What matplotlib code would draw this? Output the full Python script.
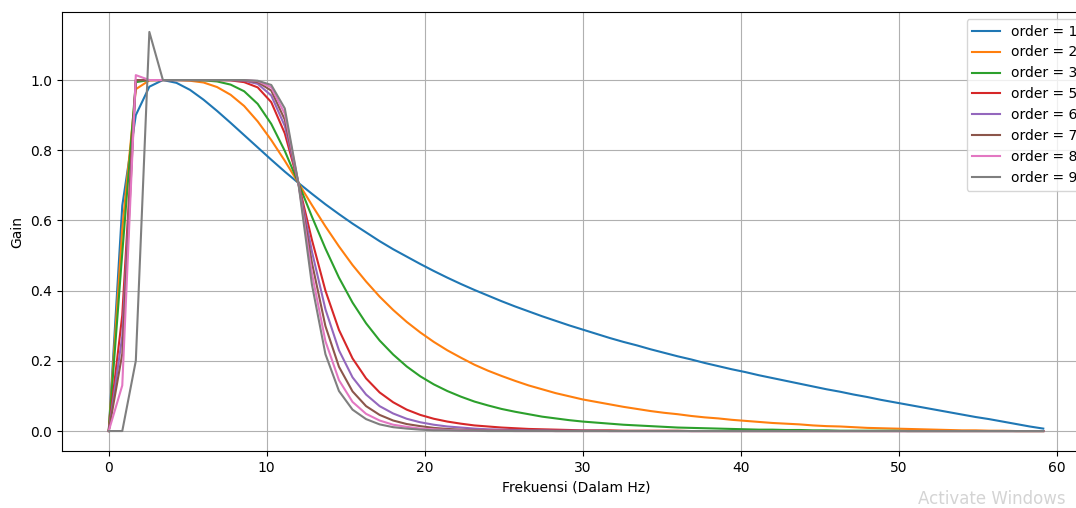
import matplotlib
matplotlib.use("Agg")
import matplotlib.pyplot as plt

# frekuensi sampel respons (Hz)
freq = [0.0, 0.857, 1.714, 2.571, 3.429, 4.286, 5.143, 6.0, 6.857, 7.714,
        8.571, 9.429, 10.286, 11.143, 12.0, 12.857, 13.714, 14.571, 15.429, 16.286,
        17.143, 18.0, 18.857, 19.714, 20.571, 21.429, 22.286, 23.143, 24.0, 24.857,
        25.714, 26.571, 27.429, 28.286, 29.143, 30.0, 30.857, 31.714, 32.571, 33.429,
        34.286, 35.143, 36.0, 36.857, 37.714, 38.571, 39.429, 40.286, 41.143, 42.0,
        42.857, 43.714, 44.571, 45.429, 46.286, 47.143, 48.0, 48.857, 49.714, 50.571,
        51.429, 52.286, 53.143, 54.0, 54.857, 55.714, 56.571, 57.429, 58.286, 59.143]

orders = [1, 2, 3, 5, 6, 7, 8, 9]

gain_1 = [0.0, 0.642, 0.900, 0.981, 1.000, 0.992, 0.972, 0.944, 0.912, 0.878,
          0.843, 0.808, 0.773, 0.739, 0.707, 0.676, 0.646, 0.618, 0.591, 0.566,
          0.541, 0.518, 0.497, 0.476, 0.456, 0.437, 0.419, 0.402, 0.386, 0.370,
          0.355, 0.341, 0.327, 0.314, 0.301, 0.289, 0.277, 0.265, 0.254, 0.244,
          0.233, 0.223, 0.213, 0.204, 0.194, 0.185, 0.176, 0.168, 0.159, 0.151,
          0.143, 0.135, 0.127, 0.119, 0.112, 0.104, 0.097, 0.089, 0.082, 0.075,
          0.068, 0.061, 0.054, 0.047, 0.040, 0.034, 0.027, 0.020, 0.013, 0.007]

gain_2 = [0.0, 0.575, 0.974, 0.999, 1.0, 1.0, 0.998, 0.993, 0.980, 0.958,
          0.926, 0.882, 0.829, 0.770, 0.707, 0.644, 0.583, 0.526, 0.473, 0.426,
          0.383, 0.345, 0.311, 0.281, 0.254, 0.230, 0.209, 0.189, 0.172, 0.157,
          0.143, 0.130, 0.119, 0.108, 0.099, 0.090, 0.083, 0.076, 0.069, 0.063,
          0.057, 0.052, 0.048, 0.043, 0.039, 0.036, 0.032, 0.029, 0.026, 0.023,
          0.021, 0.019, 0.016, 0.014, 0.013, 0.011, 0.009, 0.008, 0.007, 0.006,
          0.005, 0.004, 0.003, 0.002, 0.002, 0.001, 0.001, 0.0, 0.0, 0.0]

gain_3 = [0.0, 0.507, 0.994, 1.0, 1.0, 1.0, 1.0, 0.999, 0.996, 0.987,
          0.968, 0.932, 0.875, 0.798, 0.707, 0.611, 0.520, 0.437, 0.366, 0.307,
          0.258, 0.218, 0.184, 0.156, 0.133, 0.114, 0.098, 0.084, 0.073, 0.063,
          0.055, 0.048, 0.041, 0.036, 0.031, 0.027, 0.024, 0.021, 0.018, 0.016,
          0.014, 0.012, 0.010, 0.009, 0.008, 0.007, 0.006, 0.005, 0.004, 0.004,
          0.003, 0.003, 0.002, 0.002, 0.001, 0.001, 0.001, 0.001, 0.001, 0.0,
          0.0, 0.0, 0.0, 0.0, 0.0, 0.0, 0.0, 0.0, 0.0, 0.0]

gain_5 = [0.0, 0.33, 1.0, 1.0, 1.0, 1.0, 1.0, 1.0, 1.0, 0.999,
          0.994, 0.979, 0.937, 0.848, 0.707, 0.545, 0.400, 0.288, 0.207, 0.150,
          0.110, 0.082, 0.061, 0.046, 0.035, 0.027, 0.021, 0.016, 0.013, 0.010,
          0.008, 0.006, 0.005, 0.004, 0.003, 0.002, 0.002, 0.002, 0.001, 0.001,
          0.001, 0.001, 0.001, 0.0, 0.0, 0.0, 0.0, 0.0, 0.0, 0.0,
          0.0, 0.0, 0.0, 0.0, 0.0, 0.0, 0.0, 0.0, 0.0, 0.0,
          0.0, 0.0, 0.0, 0.0, 0.0, 0.0, 0.0, 0.0, 0.0, 0.0]

gain_6 = [0.0, 0.27, 1.0, 1.0, 1.0, 1.0, 1.0, 1.0, 1.0, 1.0,
          0.998, 0.989, 0.956, 0.869, 0.707, 0.512, 0.347, 0.230, 0.153, 0.104,
          0.071, 0.050, 0.035, 0.025, 0.018, 0.013, 0.010, 0.007, 0.005, 0.004,
          0.003, 0.002, 0.002, 0.001, 0.001, 0.001, 0.001, 0.0, 0.0, 0.0,
          0.0, 0.0, 0.0, 0.0, 0.0, 0.0, 0.0, 0.0, 0.0, 0.0,
          0.0, 0.0, 0.0, 0.0, 0.0, 0.0, 0.0, 0.0, 0.0, 0.0,
          0.0, 0.0, 0.0, 0.0, 0.0, 0.0, 0.0, 0.0, 0.0, 0.0]

gain_7 = [0.0, 0.22, 1.0, 1.0, 1.0, 1.0, 1.0, 1.0, 1.0, 1.0,
          0.999, 0.994, 0.970, 0.887, 0.707, 0.480, 0.299, 0.183, 0.113, 0.071,
          0.046, 0.030, 0.020, 0.014, 0.009, 0.006, 0.004, 0.003, 0.002, 0.002,
          0.001, 0.001, 0.001, 0.0, 0.0, 0.0, 0.0, 0.0, 0.0, 0.0,
          0.0, 0.0, 0.0, 0.0, 0.0, 0.0, 0.0, 0.0, 0.0, 0.0,
          0.0, 0.0, 0.0, 0.0, 0.0, 0.0, 0.0, 0.0, 0.0, 0.0,
          0.0, 0.0, 0.0, 0.0, 0.0, 0.0, 0.0, 0.0, 0.0, 0.0]

gain_8 = [0.0, 0.13, 1.014, 1.0, 1.0, 1.0, 1.0, 1.0, 1.0, 1.0,
          1.0, 0.997, 0.979, 0.904, 0.707, 0.449, 0.256, 0.145, 0.083, 0.049,
          0.030, 0.018, 0.012, 0.007, 0.005, 0.003, 0.002, 0.001, 0.001, 0.001,
          0.0, 0.0, 0.0, 0.0, 0.0, 0.0, 0.0, 0.0, 0.0, 0.0,
          0.0, 0.0, 0.0, 0.0, 0.0, 0.0, 0.0, 0.0, 0.0, 0.0,
          0.0, 0.0, 0.0, 0.0, 0.0, 0.0, 0.0, 0.0, 0.0, 0.0,
          0.0, 0.0, 0.0, 0.0, 0.0, 0.0, 0.0, 0.0, 0.0, 0.0]

gain_9 = [0.0, 0.0, 0.20, 1.137, 1.0, 1.0, 1.0, 1.0, 1.0, 1.0,
          1.0, 0.998, 0.986, 0.919, 0.707, 0.418, 0.219, 0.114, 0.061, 0.034,
          0.019, 0.011, 0.007, 0.004, 0.002, 0.002, 0.001, 0.001, 0.0, 0.0,
          0.0, 0.0, 0.0, 0.0, 0.0, 0.0, 0.0, 0.0, 0.0, 0.0,
          0.0, 0.0, 0.0, 0.0, 0.0, 0.0, 0.0, 0.0, 0.0, 0.0,
          0.0, 0.0, 0.0, 0.0, 0.0, 0.0, 0.0, 0.0, 0.0, 0.0,
          0.0, 0.0, 0.0, 0.0, 0.0, 0.0, 0.0, 0.0, 0.0, 0.0]

gains = [gain_1, gain_2, gain_3, gain_5, gain_6, gain_7, gain_8, gain_9]

fig = plt.figure(figsize=(10.76, 5.08), dpi=100)
# tangkapan layar terpotong di kanan: sumbu sedikit melewati tepi gambar
ax = fig.add_axes([62 / 1076, 57 / 508, 1028 / 1076, 439 / 508])

for order, g in zip(orders, gains):
    ax.plot(freq, g, label="order = %d" % order)

ax.set_xlabel("Frekuensi (Dalam Hz)")
ax.set_ylabel("Gain")
ax.grid(True)
ax.legend(loc="upper right")

fig.text(918 / 1076, 0.008, "Activate Windows", fontsize=12, color="#d4d4d4",
         ha="left", va="baseline")

fig.savefig("out.png", dpi=100)
